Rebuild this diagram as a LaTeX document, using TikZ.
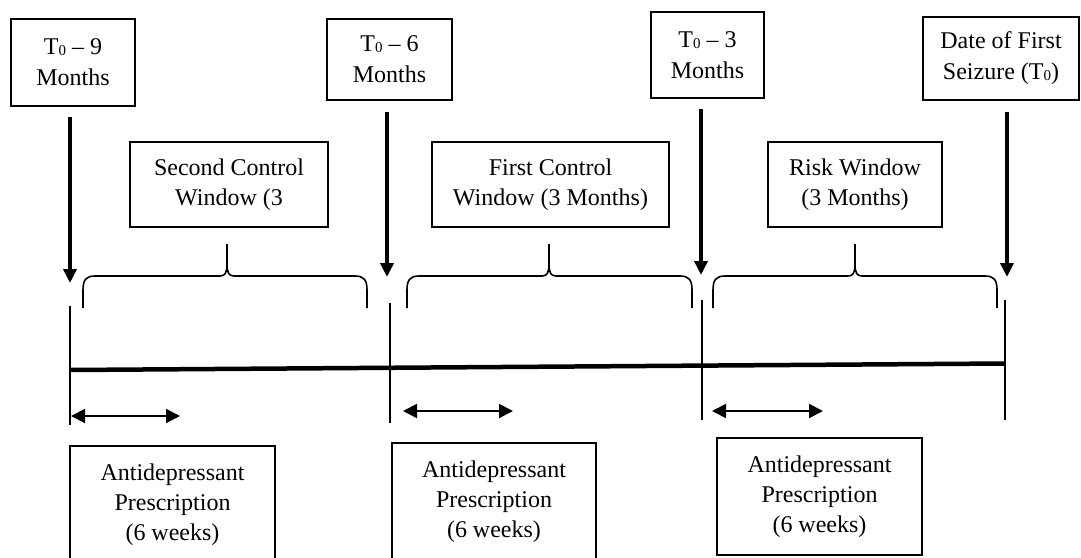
\documentclass[tikz,border=0pt]{standalone}
\usepackage{fontspec}
\setmainfont{Liberation Serif}
\usetikzlibrary{arrows.meta}
\newcommand{\tzr}{\raisebox{-1pt}{\fontsize{15}{15}\selectfont 0}}
\newcommand{\mybrace}[3]{%
  \draw[bracestyle] (#1,308) -- (#1,290) .. controls (#1,280) and (#1+3,276) .. (#1+12,276) -- (#3-7,276) .. controls (#3-2,276) and (#3,273) .. (#3,264) -- (#3,244);
  \draw[bracestyle] (#3,264) .. controls (#3,273) and (#3+2,276) .. (#3+7,276) -- (#2-12,276) .. controls (#2-3,276) and (#2,280) .. (#2,290) -- (#2,308);
}
\begin{document}
\begin{tikzpicture}[x=1pt,y=-1pt,
  box/.style={draw, line width=1.6pt, align=center, inner sep=0pt, font=\fontsize{24}{30}\selectfont},
  topbox/.style={box, font=\fontsize{24}{31}\selectfont},
  downarrow/.style={line width=4pt, -{Triangle[length=14pt,width=13pt]}},
  tick/.style={line width=1.8pt},
  timeline/.style={line width=4.5pt},
  duration/.style={line width=2pt, {Triangle[length=14pt,width=14pt]}-{Triangle[length=14pt,width=14pt]}},
  bracestyle/.style={line width=1.6pt, line join=round}]
\useasboundingbox (0,0) rectangle (1081,557);
\clip (0,0) rectangle (1081,557);

% top boxes
\node[topbox, minimum width=124pt, minimum height=87pt] (m9) at (73,62.5) {T\tzr{} -- 9\\Months};
\node[topbox, minimum width=125pt, minimum height=81pt] (m6) at (389.5,59.5) {T\tzr{} -- 6\\Months};
\node[topbox, minimum width=113pt, minimum height=86pt] (m3) at (707.5,55) {T\tzr{} -- 3\\Months};
\node[topbox, minimum width=156pt, minimum height=83pt] (t0) at (1001,58.5) {Date of First\\Seizure (T\tzr)};

% window boxes
\node[box, minimum width=198pt, minimum height=85pt] (w2) at (229,184.5) {Second Control\\Window (3};
\node[box, minimum width=237pt, minimum height=85pt] (w1) at (550.5,184.5) {First Control\\Window (3 Months)};
\node[box, minimum width=174pt, minimum height=85pt] (wr) at (855,184.5) {Risk Window\\(3 Months)};

% prescription boxes
\node[box, minimum width=205pt, minimum height=117pt] (p1) at (172.5,504.5) {Antidepressant\\Prescription\\(6 weeks)};
\node[box, minimum width=204pt, minimum height=117pt] (p2) at (494,501.5) {Antidepressant\\Prescription\\(6 weeks)};
\node[box, minimum width=205pt, minimum height=117pt] (p3) at (819.5,496.5) {Antidepressant\\Prescription\\(6 weeks)};

% down arrows
\coordinate (a9s) at (70,117);  \coordinate (a9e) at (70,283);
\coordinate (a6s) at (387,112); \coordinate (a6e) at (387,277);
\coordinate (a3s) at (701,109); \coordinate (a3e) at (701,275);
\coordinate (a0s) at (1007,112); \coordinate (a0e) at (1007,277);
\draw[downarrow] (a9s) -- (a9e);
\draw[downarrow] (a6s) -- (a6e);
\draw[downarrow] (a3s) -- (a3e);
\draw[downarrow] (a0s) -- (a0e);

% braces
\mybrace{83}{367}{227}
\mybrace{407}{692}{549}
\mybrace{713}{997}{855}

% ticks
\coordinate (k9t) at (70,306);  \coordinate (k9b) at (70,425);
\coordinate (k6t) at (390,303); \coordinate (k6b) at (390,423);
\coordinate (k3t) at (702,300); \coordinate (k3b) at (702,420);
\coordinate (k0t) at (1005,300); \coordinate (k0b) at (1005,420);
\draw[tick] (k9t) -- (k9b);
\draw[tick] (k6t) -- (k6b);
\draw[tick] (k3t) -- (k3b);
\draw[tick] (k0t) -- (k0b);

% timeline
\coordinate (l9) at (70,370);
\coordinate (l0) at (1005,363.5);
\draw[timeline] (l9) -- (l0);

% durations
\coordinate (d1a) at (71,416);  \coordinate (d1b) at (180,416);
\coordinate (d2a) at (403,411); \coordinate (d2b) at (513,411);
\coordinate (d3a) at (712,411); \coordinate (d3b) at (823,411);
\draw[duration] (d1a) -- (d1b);
\draw[duration] (d2a) -- (d2b);
\draw[duration] (d3a) -- (d3b);
\end{tikzpicture}
\end{document}
